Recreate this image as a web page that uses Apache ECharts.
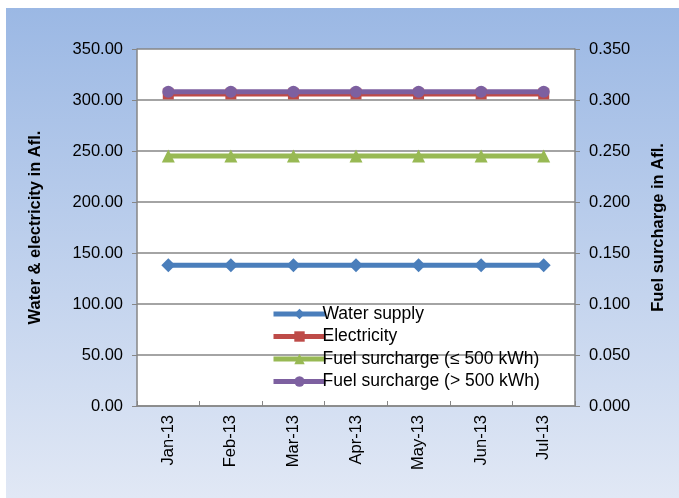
<!DOCTYPE html>
<html>
<head>
<meta charset="utf-8">
<script src="https://cdn.jsdelivr.net/npm/echarts@6/dist/echarts.min.js"></script>
<style>
  html, body { margin: 0; padding: 0; background: #fff; }
  #chart { width: 679px; height: 498px; }
</style>
</head>
<body>
<div id="chart"></div>
<script>
// data
const months = ['Jan-13', 'Feb-13', 'Mar-13', 'Apr-13', 'May-13', 'Jun-13', 'Jul-13'];
const waterSupply = [138, 138, 138, 138, 138, 138, 138];
const electricity = [306, 306, 306, 306, 306, 306, 306];
const fuelLow = [0.245, 0.245, 0.245, 0.245, 0.245, 0.245, 0.245];   // ≤ 500 kWh
const fuelHigh = [0.308, 0.308, 0.308, 0.308, 0.308, 0.308, 0.308];  // > 500 kWh

const font = 'Liberation Sans, Arial, sans-serif';
const axisGray = '#868686';
const fs = 16.5;

const chart = echarts.init(document.getElementById('chart'));

function lineSeries(name, data, color, symbol, size, yIdx) {
    return {
        name: name,
        type: 'line',
        yAxisIndex: yIdx,
        data: data,
        symbol: symbol,
        symbolSize: size,
        lineStyle: { color: color, width: 5 },
        itemStyle: { color: color },
        emphasis: { disabled: true },
        animation: false,
    };
}

const option = {
    backgroundColor: '#ffffff',
    textStyle: { fontFamily: font },
    graphic: [{
        type: 'rect',
        z: -100,
        shape: { x: 6, y: 8, width: 673, height: 490 },
        style: {
            fill: new echarts.graphic.LinearGradient(0, 0, 0, 1, [
                { offset: 0, color: '#9bb8e4' },
                { offset: 1, color: '#e1e8f5' },
            ]),
        },
    }],
    grid: {
        left: 137,
        right: 104,
        top: 49,
        bottom: 92,
        show: true,
        backgroundColor: '#ffffff',
        borderWidth: 0,
    },
    legend: {
        orient: 'vertical',
        left: 266,
        top: 300,
        itemWidth: 52,
        itemHeight: 13,
        itemGap: 4.5,
        lineStyle: { width: 5 },
        textStyle: { fontSize: 17.5, color: '#000', fontFamily: font, padding: [0, 0, 0, -8] },
        data: ['Water supply', 'Electricity', 'Fuel surcharge (≤ 500 kWh)', 'Fuel surcharge (> 500 kWh)'],
    },
    xAxis: {
        type: 'category',
        data: months,
        boundaryGap: true,
        axisLine: { lineStyle: { color: axisGray, width: 1.5 } },
        axisTick: { show: true, inside: true, length: 5, lineStyle: { color: axisGray } },
        axisLabel: { rotate: 90, fontSize: fs, color: '#000', margin: 9, fontFamily: font },
        splitLine: { show: false },
    },
    yAxis: [{
        type: 'value',
        min: 0,
        max: 350,
        interval: 50,
        name: 'Water & electricity in Afl.',
        nameLocation: 'middle',
        nameRotate: 90,
        nameGap: 93,
        nameTextStyle: { fontSize: fs, fontWeight: 'bold', color: '#000', fontFamily: font },
        axisLine: { show: true, lineStyle: { color: axisGray, width: 1.5 } },
        axisTick: { show: true, length: 5, lineStyle: { color: axisGray } },
        axisLabel: { fontSize: fs, color: '#000', margin: 14, fontFamily: font,
            formatter: v => v.toFixed(2) },
        splitLine: { show: true, lineStyle: { color: axisGray, width: 1.5 } },
    }, {
        type: 'value',
        min: 0,
        max: 0.35,
        interval: 0.05,
        position: 'right',
        name: 'Fuel surcharge in Afl.',
        nameLocation: 'middle',
        nameRotate: 90,
        nameGap: 75,
        nameTextStyle: { fontSize: fs, fontWeight: 'bold', color: '#000', fontFamily: font },
        axisLine: { show: true, lineStyle: { color: axisGray, width: 1.5 } },
        axisTick: { show: true, length: 5, lineStyle: { color: axisGray } },
        axisLabel: { fontSize: fs, color: '#000', margin: 14, fontFamily: font,
            formatter: v => v.toFixed(3) },
        splitLine: { show: false },
    }],
    series: [
        lineSeries('Water supply', waterSupply, '#4a7ebb', 'diamond', 14, 0),
        lineSeries('Electricity', electricity, '#be4b48', 'rect', 11, 0),
        lineSeries('Fuel surcharge (≤ 500 kWh)', fuelLow, '#98b954', 'triangle', 13, 1),
        lineSeries('Fuel surcharge (> 500 kWh)', fuelHigh, '#7d60a0', 'circle', 12, 1),
    ],
};

chart.setOption(option);
</script>
</body>
</html>
